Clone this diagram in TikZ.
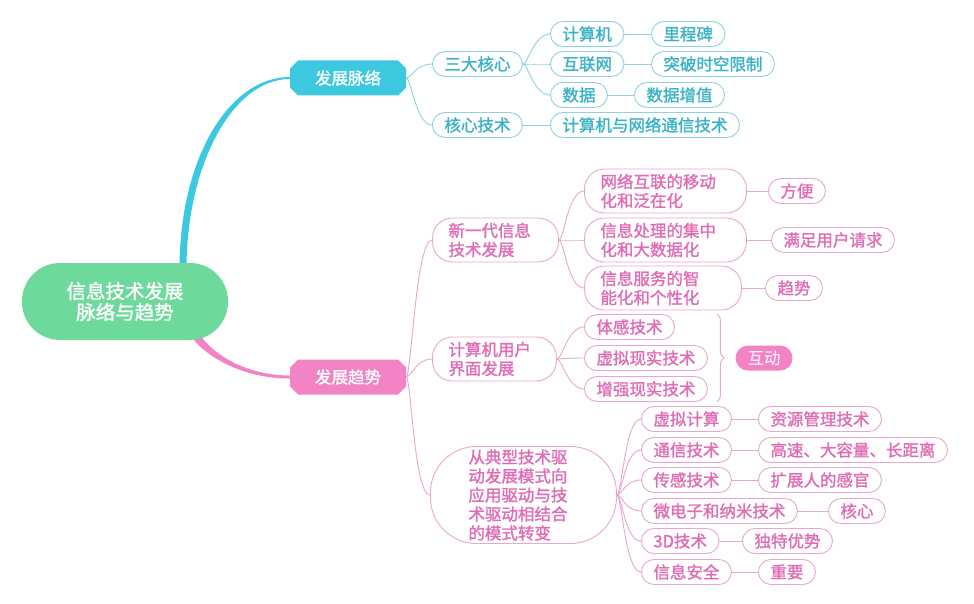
\documentclass[tikz,border=0pt]{standalone}
\usepackage{fontspec}
\setmainfont{Noto Sans CJK SC}
\newfontfamily\cjkbold[FakeBold=1.4]{Noto Sans CJK SC}
\definecolor{mapGreen}{HTML}{6DD99B}
\definecolor{mapCyan}{HTML}{3CC8DE}
\definecolor{mapCyanText}{HTML}{3BB3C7}
\definecolor{mapCyanLine}{HTML}{8ED3DF}
\definecolor{mapPink}{HTML}{F283C5}
\definecolor{mapPinkText}{HTML}{DF6CB5}
\definecolor{mapPinkLine}{HTML}{E9A7D0}
\usetikzlibrary{calc, shapes.misc, decorations.pathreplacing}
\pgfdeclarelayer{background}
\pgfsetlayers{background,main}

\begin{document}
\begin{tikzpicture}[
    x=1pt, y=1pt,
    root/.style={
      rounded corners=38pt,
      fill=mapGreen,
      text=white,
      minimum width=206pt,
      minimum height=77pt,
      align=center,
      font=\cjkbold\fontsize{19.5}{21}\selectfont,
    },
    trunk/.style={
      chamfered rectangle,
      chamfered rectangle xsep=4pt,
      chamfered rectangle ysep=4pt,
      minimum width=116pt,
      minimum height=35pt,
      text=white,
      font=\cjkbold\fontsize{16.5}{19}\selectfont,
    },
    leaf/.style={
      rounded corners=12.5pt,
      minimum height=25pt,
      inner xsep=12pt,
      inner ysep=2pt,
      line width=0.9pt,
      anchor=west,
      font=\cjkbold\fontsize{16.5}{19}\selectfont,
    },
    leafc/.style={leaf, draw=mapCyanLine, text=mapCyanText},
    leafp/.style={leaf, draw=mapPinkLine, text=mapPinkText},
    wide/.style={leafp, align=left, rounded corners=20pt, minimum height=44pt, inner xsep=16pt},
    linkc/.style={draw=mapCyanLine, line width=0.9pt, out=0, in=180, out distance=5pt, in distance=16pt},
    linkp/.style={linkc, draw=mapPinkLine},
    brace/.style={draw=mapPinkLine, line width=0.9pt, decorate, decoration={brace, amplitude=7pt}},
  ]
    \useasboundingbox (0,0) rectangle (974,-604);

    % centre
    \node[root] (root) at (125,-301.5) {信息技术发展\\脉络与趋势};

    % main branches
    \node[trunk, fill=mapCyan] (dm) at (348,-78) {发展脉络};
    \node[trunk, fill=mapPink] (qs) at (348,-377) {发展趋势};

    % history: three cores
    \node[leafc] (sd) at (432,-64) {三大核心};
    \node[leafc] (hx) at (432,-125) {核心技术};
    \node[leafc] (jsj) at (550,-34) {计算机};
    \node[leafc] (hlw) at (550,-64) {互联网};
    \node[leafc] (sj) at (550,-95) {数据};
    \node[leafc] (lcb) at (651,-34) {里程碑};
    \node[leafc] (tp) at (651,-64) {突破时空限制};
    \node[leafc] (zz) at (634,-95) {数据增值};
    \node[leafc] (wt) at (550,-125) {计算机与网络通信技术};

    % trend: new IT
    \node[wide, text width=94pt] (xyd) at (432,-240) {新一代信息\\技术发展};
    \node[wide, text width=130pt] (wl) at (584,-191) {网络互联的移动\\化和泛在化};
    \node[wide, text width=130pt] (cl) at (584,-240) {信息处理的集中\\化和大数据化};
    \node[wide, text width=125pt] (fw) at (584,-288) {信息服务的智\\能化和个性化};
    \node[leafp] (fb) at (768,-191) {方便};
    \node[leafp] (mz) at (771,-240) {满足用户请求};
    \node[leafp] (qsh) at (765,-288) {趋势};

    % trend: user interface
    \node[wide, text width=92pt] (jyj) at (432,-359) {计算机用户\\界面发展};
    \node[leafp] (tg) at (584,-327) {体感技术};
    \node[leafp] (vr) at (584,-358) {虚拟现实技术};
    \node[leafp] (ar) at (584,-389) {增强现实技术};
    \node[leaf, anchor=center, fill=mapPink, text=white, font=\fontsize{16.5}{19}\selectfont] (hd) at (764,-358) {互动};

    % trend: driving mode
    \node[wide, text width=110pt, inner xsep=38pt, minimum height=97pt, rounded corners=46pt] (cd) at (430,-495)
      {从典型技术驱\\动发展模式向\\应用驱动与技\\术驱动相结合\\的模式转变};
    \node[leafp] (xn) at (641,-419) {虚拟计算};
    \node[leafp] (tx) at (641,-450) {通信技术};
    \node[leafp] (cg) at (641,-480) {传感技术};
    \node[leafp] (wd) at (641,-511) {微电子和纳米技术};
    \node[leafp] (sw) at (641,-541) {3D技术};
    \node[leafp] (aq) at (641,-572) {信息安全};
    \node[leafp] (zy) at (758,-419) {资源管理技术};
    \node[leafp] (gs) at (758,-450) {高速、大容量、长距离};
    \node[leafp] (kz) at (758,-480) {扩展人的感官};
    \node[leafp] (hxn) at (828,-511) {核心};
    \node[leafp] (dt) at (742,-541) {独特优势};
    \node[leafp] (zyo) at (758,-572) {重要};

    % trunks
    \coordinate (cs) at ($(root.north)+(58,0)$);
    \begin{pgfonlayer}{background}
      \fill[white] (0,0) rectangle (974,-604);
      \fill[mapCyan] ($(cs)+(-3.5,-6)$) .. controls ($(cs)+(-3.5,104)$) and ($(dm.west)+(-61,1)$) .. ($(dm.west)+(0,1)$)
        -- ($(dm.west)+(0,-1)$) .. controls ($(dm.west)+(-57,-1)$) and ($(cs)+(3.5,98)$) .. ($(cs)+(3.5,-6)$) -- cycle;
      \fill[mapPink] ($(root.south)+(66,4)$) to[out=-55, in=180, out distance=24pt, in distance=48pt] ($(qs.west)+(0,-1.5)$)
        -- ($(qs.west)+(0,1.5)$) to[out=180, in=-55, out distance=44pt, in distance=22pt] ($(root.south)+(76,4)$) -- cycle;
    \end{pgfonlayer}

    % links
    \draw[linkc] (dm.east) to (sd.west);
    \draw[linkc] (dm.east) to (hx.west);
    \draw[linkc] (sd.east) to (jsj.west);
    \draw[linkc] (sd.east) to (hlw.west);
    \draw[linkc] (sd.east) to (sj.west);
    \draw[linkc] (jsj.east) -- (lcb.west);
    \draw[linkc] (hlw.east) -- (tp.west);
    \draw[linkc] (sj.east) -- (zz.west);
    \draw[linkc] (hx.east) -- (wt.west);

    \draw[linkp] (qs.east) to (xyd.west);
    \draw[linkp] (qs.east) to (jyj.west);
    \draw[linkp] (qs.east) to (cd.west);
    \draw[linkp] (xyd.east) to (wl.west);
    \draw[linkp] (xyd.east) to (cl.west);
    \draw[linkp] (xyd.east) to (fw.west);
    \draw[linkp] (wl.east) -- (fb.west);
    \draw[linkp] (cl.east) -- (mz.west);
    \draw[linkp] (fw.east) -- (qsh.west);
    \draw[linkp] (jyj.east) to (tg.west);
    \draw[linkp] (jyj.east) to (vr.west);
    \draw[linkp] (jyj.east) to (ar.west);
    \foreach \n in {xn, tx, cg, wd, sw, aq}
      \draw[linkp] (cd.east) to (\n.west);
    \draw[linkp] (xn.east) -- (zy.west);
    \draw[linkp] (tx.east) -- (gs.west);
    \draw[linkp] (cg.east) -- (kz.west);
    \draw[linkp] (wd.east) -- (hxn.west);
    \draw[linkp] (sw.east) -- (dt.west);
    \draw[linkp] (aq.east) -- (zyo.west);

    % brace
    \draw[brace] ($(vr.east |- tg.north)+(9,0)$) -- ($(vr.east |- ar.south)+(9,0)$);
  \end{tikzpicture}
\end{document}
